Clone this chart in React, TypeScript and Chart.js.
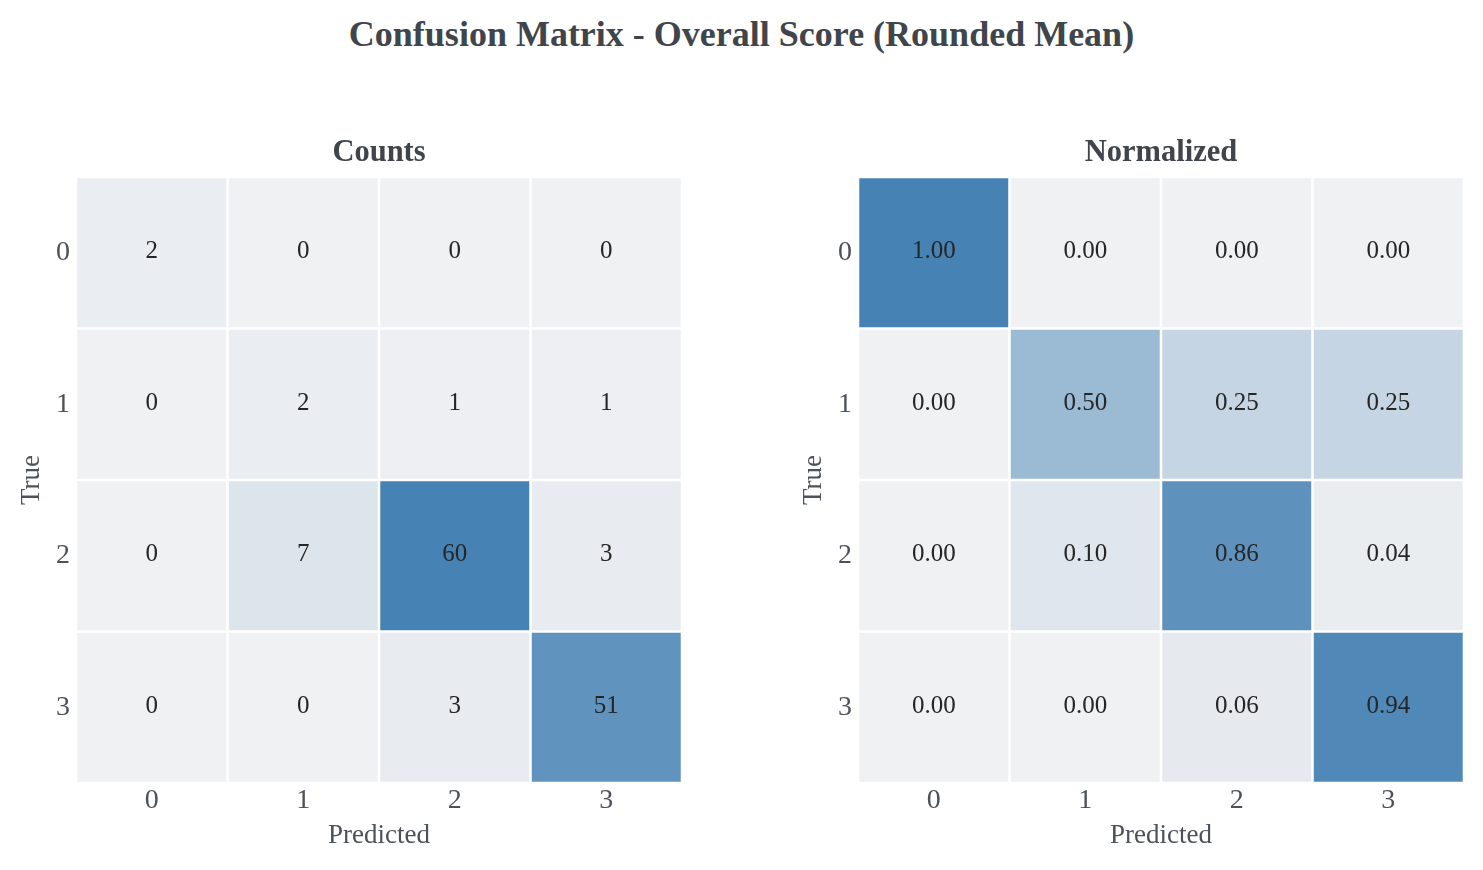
import React, { useEffect, useRef } from 'react';
import { Chart, registerables } from 'chart.js';

Chart.register(...registerables);

const categories = ['0', '1', '2', '3'];

const countsTrue0 = [2, 0, 0, 0];
const countsTrue1 = [0, 2, 1, 1];
const countsTrue2 = [0, 7, 60, 3];
const countsTrue3 = [0, 0, 3, 51];

const normTrue0 = [1.0, 0.0, 0.0, 0.0];
const normTrue1 = [0.0, 0.5, 0.25, 0.25];
const normTrue2 = [0.0, 0.1, 0.86, 0.04];
const normTrue3 = [0.0, 0.0, 0.06, 0.94];

const FONT = '"Liberation Serif", "Times New Roman", serif';
const LOW = [240, 241, 243];
const HIGH = [70, 130, 180];

function cmap(t: number): string {
  const c = LOW.map((l, i) => Math.round(l + (HIGH[i] - l) * Math.max(0, Math.min(1, t))));
  return `rgb(${c[0]},${c[1]},${c[2]})`;
}

const cellTextPlugin = {
  id: 'cellText',
  afterDatasetsDraw(chart: any) {
    const ctx = chart.ctx;
    ctx.save();
    ctx.font = `25px ${FONT}`;
    ctx.fillStyle = '#262626';
    ctx.textAlign = 'center';
    ctx.textBaseline = 'middle';
    chart.data.datasets.forEach((ds: any, di: number) => {
      const meta = chart.getDatasetMeta(di);
      meta.data.forEach((el: any, i: number) => {
        const y = (el.y + el.base) / 2 - 1;
        ctx.fillText(ds.cellTexts[i], el.x, y);
      });
    });
    ctx.restore();
  },
};

type HeatProps = {
  rows: number[][];
  vmax: number;
  fmt: (v: number) => string;
  title: string;
  left: number;
  width: number;
  padRight: number;
};

function Heatmap({ rows, vmax, fmt, title, left, width, padRight }: HeatProps) {
  const ref = useRef<HTMLCanvasElement>(null);
  useEffect(() => {
    if (!ref.current) return;
    const datasets = rows.map((row, r) => ({
      label: categories[r],
      data: categories.map(() => [r, r + 1]),
      backgroundColor: row.map((v) => cmap(v / vmax)),
      borderColor: '#ffffff',
      borderWidth: 1.6,
      borderSkipped: false,
      grouped: false,
      categoryPercentage: 1,
      barPercentage: 1,
      cellTexts: row.map(fmt),
    }));
    const chart = new Chart(ref.current, {
      type: 'bar',
      data: { labels: categories, datasets: datasets as any },
      options: {
        animation: false,
        responsive: false,
        devicePixelRatio: 1,
        layout: { padding: { right: padRight, left: 0, top: 0, bottom: 0 } },
        plugins: {
          legend: { display: false },
          tooltip: { enabled: false },
          title: {
            display: true,
            fullSize: false,
            text: title,
            color: '#40454c',
            font: { family: FONT, size: 30.5, weight: 'bold' },
            padding: { top: 24.4, bottom: 6 },
          },
        },
        scales: {
          x: {
            type: 'category',
            grid: { display: false, drawTicks: false },
            border: { display: false },
            ticks: { color: '#4d525a', font: { family: FONT, size: 28 }, padding: 1 },
            title: {
              display: true,
              text: 'Predicted',
              color: '#4d525a',
              font: { family: FONT, size: 27 },
              padding: { top: 0, bottom: 17.8 },
            },
            afterFit: (s: any) => {
              s.height = 87;
            },
          },
          y: {
            type: 'linear',
            min: 0,
            max: 4,
            reverse: true,
            grid: { display: false, drawTicks: false },
            border: { display: false },
            afterBuildTicks: (s: any) => {
              s.ticks = [0.5, 1.5, 2.5, 3.5].map((v) => ({ value: v }));
            },
            ticks: {
              color: '#4d525a',
              font: { family: FONT, size: 28 },
              padding: 6,
              callback: (v: any) => categories[Math.floor(Number(v))],
            },
            title: {
              display: true,
              text: 'True',
              color: '#4d525a',
              font: { family: FONT, size: 27 },
              padding: { top: 16, bottom: 0 },
            },
            afterFit: (s: any) => {
              s.width = 76;
            },
          },
        },
      } as any,
      plugins: [cellTextPlugin],
    });
    return () => chart.destroy();
  }, []);
  return (
    <canvas
      ref={ref}
      width={width}
      height={760}
      style={{ position: 'absolute', left, top: 110, width, height: 760 }}
    />
  );
}

export default function App() {
  const countsRows = [countsTrue0, countsTrue1, countsTrue2, countsTrue3];
  const normRows = [normTrue0, normTrue1, normTrue2, normTrue3];
  const countsMax = Math.max(...countsRows.flat());
  return (
    <div
      style={{
        position: 'fixed',
        left: 0,
        top: 0,
        width: 1483,
        height: 870,
        overflow: 'hidden',
        background: '#ffffff',
      }}
    >
      <div
        style={{
          position: 'absolute',
          left: 0,
          top: 12,
          width: 1483,
          textAlign: 'center',
          fontFamily: FONT,
          fontWeight: 'bold',
          fontSize: 36,
          lineHeight: '44px',
          color: '#40454c',
        }}
      >
        Confusion Matrix - Overall Score (Rounded Mean)
      </div>
      <Heatmap
        rows={countsRows}
        vmax={countsMax}
        fmt={(v) => String(v)}
        title="Counts"
        left={0}
        width={740}
        padRight={58}
      />
      <Heatmap
        rows={normRows}
        vmax={1}
        fmt={(v) => v.toFixed(2)}
        title="Normalized"
        left={782}
        width={701}
        padRight={19}
      />
    </div>
  );
}
